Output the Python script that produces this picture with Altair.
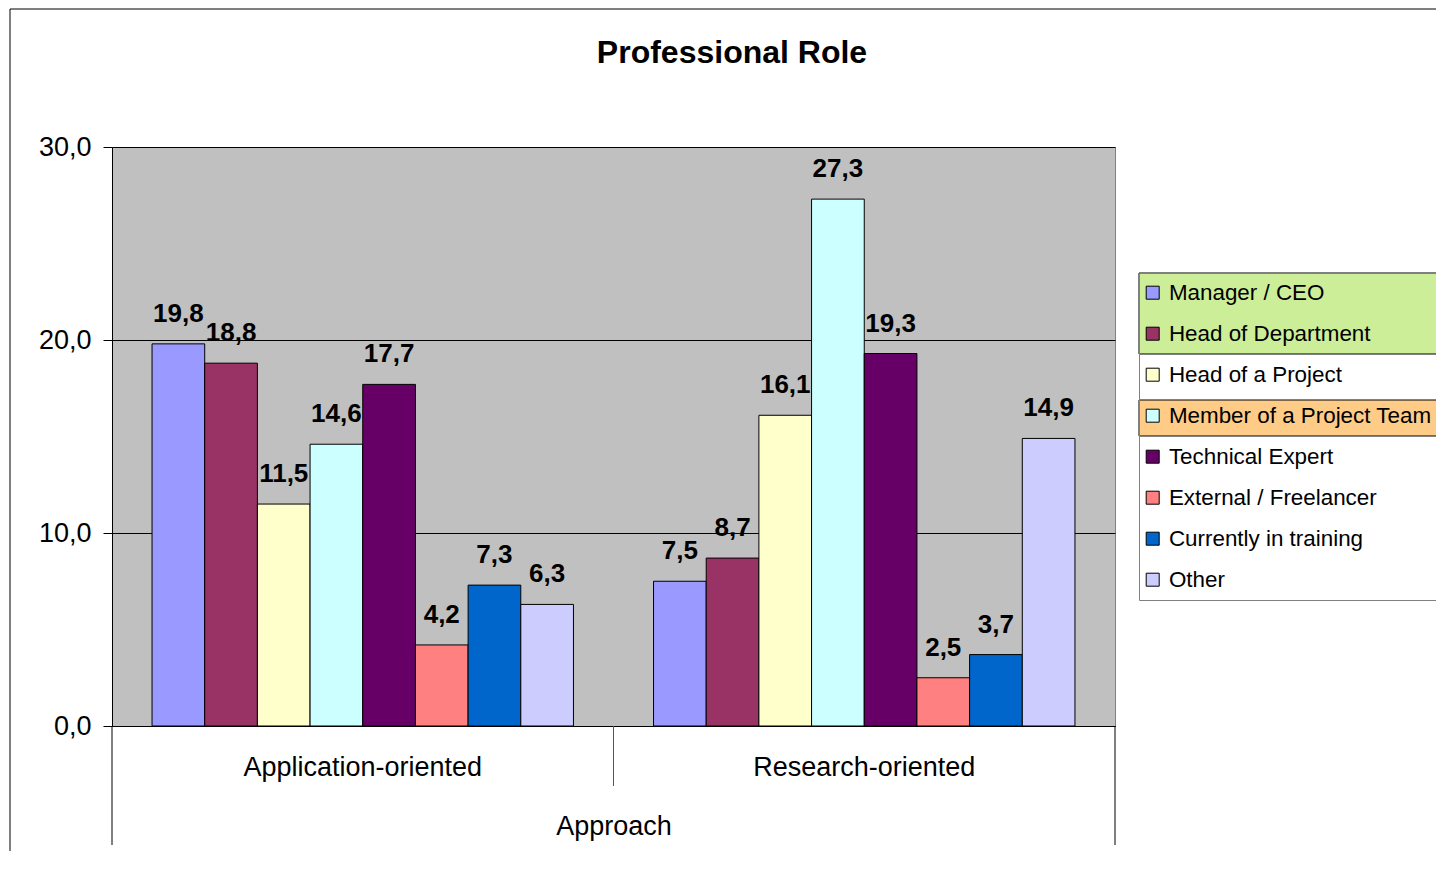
import altair as alt
import pandas as pd

groups = ["Application-oriented", "Research-oriented"]
roles = ["Manager / CEO", "Head of Department", "Head of a Project",
         "Member of a Project Team", "Technical Expert", "External / Freelancer",
         "Currently in training", "Other"]
colors = ["#9999FF", "#993366", "#FFFFCC", "#CCFFFF", "#660066", "#FF8080",
          "#0066CC", "#CCCCFF"]
application_values = [19.8, 18.8, 11.5, 14.6, 17.7, 4.2, 7.3, 6.3]
research_values = [7.5, 8.7, 16.1, 27.3, 19.3, 2.5, 3.7, 14.9]
y_ticks = [0, 10, 20, 30]
chart_title = "Professional Role"

rows = []
for g, vals in zip(groups, [application_values, research_values]):
    for r, v in zip(roles, vals):
        rows.append({"group": g, "role": r, "value": v})
df = pd.DataFrame(rows)
one = pd.DataFrame({"title": [chart_title]})

FONT = "Liberation Sans"
W, H = 1003, 579

x = alt.X("group:N", sort=groups,
          scale=alt.Scale(paddingInner=0, paddingOuter=0),
          axis=alt.Axis(title="Approach", labelAngle=0, ticks=False, tickSize=0,
                        labelPadding=28, titlePadding=33, labelFontSize=27,
                        labelLimit=500,
                        titleFontSize=27, titleFontWeight="normal", labelFont=FONT,
                        titleFont=FONT, labelColor="black", titleColor="black",
                        domainColor="black", domainWidth=1, grid=False))
xo = alt.XOffset("role:N", sort=roles,
                 scale=alt.Scale(domain=roles, paddingInner=0, paddingOuter=0.76))
y = alt.Y("value:Q", scale=alt.Scale(domain=[0, 30], nice=False),
          axis=alt.Axis(values=y_ticks, title=None,
                        labelExpr="replace(format(datum.value, '.1f'), '.', ',')",
                        labelFont=FONT, labelFontSize=27, labelColor="black",
                        labelPadding=12, tickSize=9, tickColor="black",
                        domainColor="black", domainWidth=1,
                        grid=True, gridColor="black", gridWidth=1, gridOpacity=1))
color = alt.Color("role:N", sort=roles,
                  scale=alt.Scale(domain=roles, range=colors),
                  legend=alt.Legend(title=None, orient="none", legendX=1027, legendY=126,
                                    padding=8.5, rowPadding=18, symbolType="square",
                                    symbolSize=169, symbolStrokeColor="black",
                                    symbolStrokeWidth=1, symbolOpacity=1,
                                    symbolOffset=-6,
                                    labelFont=FONT, labelFontSize=22.4, labelColor="black",
                                    labelOffset=5, labelLimit=400,
                                    strokeColor="#808080"))

base = alt.Chart(df)
bars = base.mark_bar(stroke="black", strokeWidth=1).encode(x=x, xOffset=xo, y=y, color=color)
labels = base.transform_calculate(
    label="replace(format(datum.value, '.1f'), '.', ',')"
).mark_text(font=FONT, fontSize=26, fontWeight="bold", baseline="middle",
            dy=-30, color="black").encode(x=x, xOffset=xo, y=y, text="label:N")

# decorative elements (frame, title, category separators, legend highlights)
frame = alt.Chart(one).mark_rect(fill=None, stroke="black", strokeWidth=1).encode(
    x=alt.value(-102), x2=alt.value(1360), y=alt.value(-138), y2=alt.value(760))
title = alt.Chart(one).mark_text(font=FONT, fontSize=32, fontWeight="bold",
                                  baseline="alphabetic", align="center",
                                  color="black").encode(
    x=alt.value(620), y=alt.value(-84), text="title:N")
hl_green = alt.Chart(one).mark_rect(fill="#CCEE99", stroke="black", strokeWidth=1).encode(
    x=alt.value(1027), x2=alt.value(1325), y=alt.value(126), y2=alt.value(207))
hl_orange = alt.Chart(one).mark_rect(fill="#FFCC88", stroke="black", strokeWidth=1).encode(
    x=alt.value(1027), x2=alt.value(1328), y=alt.value(253), y2=alt.value(289))
sep_left = alt.Chart(one).mark_rule(color="black", strokeWidth=1).encode(
    x=alt.value(0), y=alt.value(579), y2=alt.value(698))
sep_mid = alt.Chart(one).mark_rule(color="#555555", strokeWidth=1).encode(
    x=alt.value(501.5), y=alt.value(579), y2=alt.value(639))
sep_right = alt.Chart(one).mark_rule(color="black", strokeWidth=1).encode(
    x=alt.value(1003), y=alt.value(579), y2=alt.value(698))

chart = alt.layer(
    frame, title, hl_green, hl_orange, bars, labels, sep_left, sep_mid, sep_right
).properties(
    width=W, height=H,
    autosize=alt.AutoSizeParams(type="none"),
    padding={"left": 104, "top": 139, "right": 321, "bottom": 125},
    background="white",
).configure_view(fill="#C0C0C0", stroke="#808080", strokeWidth=1)

chart.save("out.html", embed_options={"renderer": "svg", "actions": False})
